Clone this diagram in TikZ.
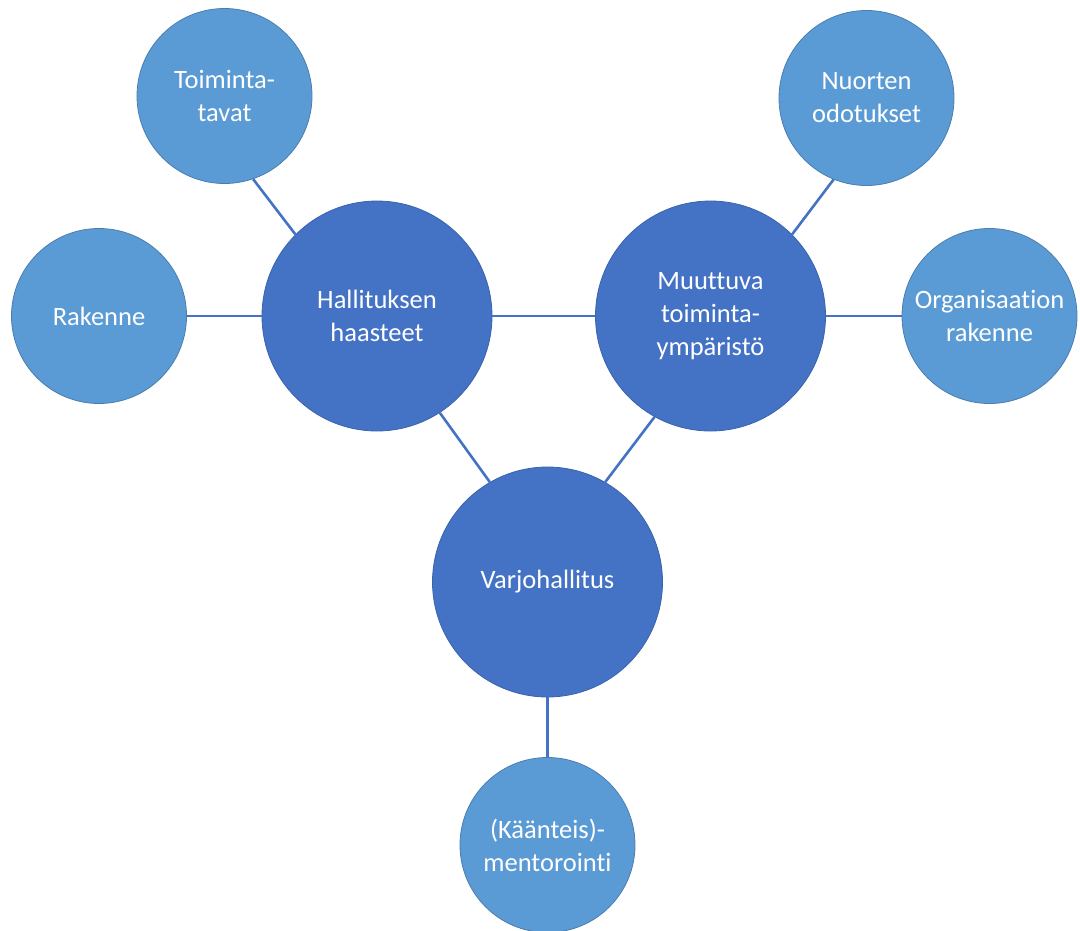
\documentclass[tikz,border=0pt]{standalone}
\usepackage{fontspec}
\setmainfont[Ligatures={NoCommon}]{Carlito}
\definecolor{bigfill}{HTML}{4472C4}
\definecolor{bigline}{HTML}{3A63AD}
\definecolor{smallfill}{HTML}{5B9BD5}
\definecolor{smallline}{HTML}{4A7DAE}
\definecolor{linkcol}{HTML}{4472C4}
\begin{document}
\begin{tikzpicture}[x=1pt,y=-1pt,
  bigcircle/.style={circle,fill=bigfill,draw=bigline,line width=0.8pt,
    minimum size=230pt,inner sep=0pt,text=white,align=center,
    font=\fontsize{26.5}{33}\selectfont},
  smallcircle/.style={circle,fill=smallfill,draw=smallline,line width=0.8pt,
    minimum size=175pt,inner sep=0pt,text=white,align=center,
    font=\fontsize{26.5}{33}\selectfont},
  link/.style={draw=linkcol,line width=2.6pt}]
\useasboundingbox (0,0) rectangle (1080,930);

% main circles
\node[bigcircle] (hall) at (377,316) {Hallituksen\\haasteet};
\node[bigcircle] (muu) at (710.5,316) {Muuttuva\\toiminta-\\ympäristö};
\node[bigcircle] (varjo) at (547.5,582) {Varjohallitus};

% outer circles
\node[smallcircle] (toim) at (224.5,96) {Toiminta-\\tavat};
\node[smallcircle] (rak) at (99,316) {Rakenne};
\node[smallcircle] (nuo) at (866.5,98) {Nuorten\\odotukset};
\node[smallcircle] (org) at (989.5,316) {Organisaation\\rakenne};
\node[smallcircle] (ment) at (547.5,845) {(Käänteis)-\\mentorointi};

% connectors
\draw[link] (toim.-71) -- (hall.135);
\draw[link] (rak.east) -- (hall.west);
\draw[link] (hall.east) -- (muu.west);
\draw[link] (nuo.-112) -- (muu.45);
\draw[link] (muu.east) -- (org.west);
\draw[link] (hall.-57) -- (varjo.120);
\draw[link] (muu.-119) -- (varjo.60);
\draw[link] (varjo.south) -- (ment.north);
\end{tikzpicture}
\end{document}
